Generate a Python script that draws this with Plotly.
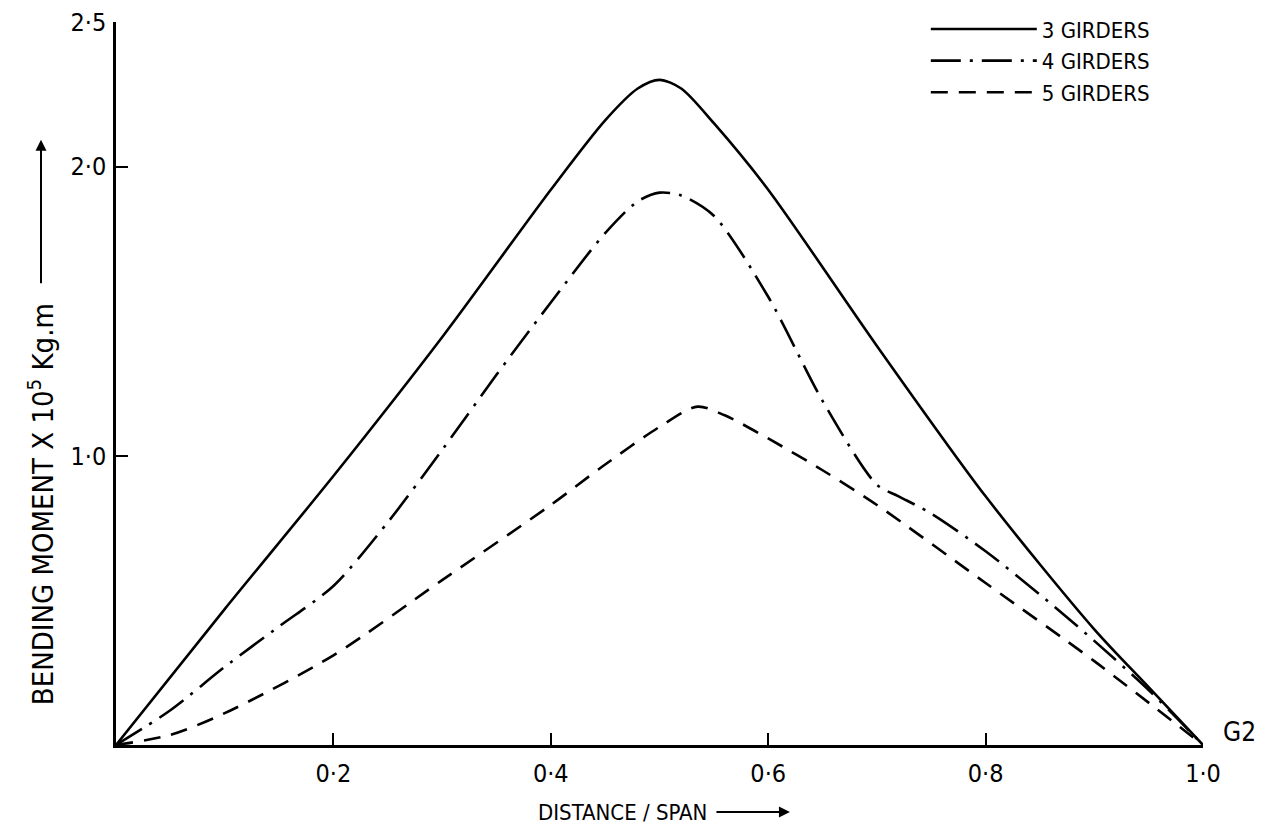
import plotly.graph_objects as go

# Distance / span positions and bending moments (x 10^5 kg.m) for girder G2
x3 = [0.0, 0.1, 0.2, 0.3, 0.4, 0.45, 0.48, 0.5, 0.52, 0.55, 0.6, 0.7, 0.8, 0.9, 0.95, 1.0]
m3 = [0.0, 0.47, 0.93, 1.41, 1.92, 2.16, 2.27, 2.30, 2.27, 2.15, 1.92, 1.38, 0.86, 0.40, 0.20, 0.0]

x4 = [0.0, 0.05, 0.1, 0.15, 0.2, 0.25, 0.3, 0.35, 0.4, 0.45, 0.48, 0.5, 0.52, 0.55,
      0.6, 0.65, 0.7, 0.72, 0.75, 0.8, 0.85, 0.9, 0.95, 1.0]
m4 = [0.0, 0.12, 0.27, 0.41, 0.55, 0.77, 1.02, 1.28, 1.53, 1.77, 1.88, 1.91, 1.90, 1.83,
      1.55, 1.19, 0.90, 0.86, 0.80, 0.67, 0.52, 0.36, 0.19, 0.0]

x5 = [0.0, 0.05, 0.1, 0.2, 0.3, 0.4, 0.45, 0.5, 0.535, 0.56, 0.6, 0.65, 0.7, 0.8, 0.9, 1.0]
m5 = [0.0, 0.035, 0.11, 0.31, 0.57, 0.83, 0.97, 1.10, 1.17, 1.14, 1.06, 0.95, 0.83, 0.56, 0.29, 0.0]

series_names = ["3 GIRDERS", "4 GIRDERS", "5 GIRDERS"]

x_ticks = [0.2, 0.4, 0.6, 0.8, 1.0]
x_tick_text = ["0·2", "0·4", "0·6", "0·8", "1·0"]
y_ticks = [1.0, 2.0, 2.5]
y_tick_text = ["1·0", "2·0", "2·5"]

FONT = "DejaVu Sans Condensed, DejaVu Sans, sans-serif"
INK = "#000000"

fig = go.Figure()
styles = [("solid", 2.6), ("30px,9px,3px,9px", 2.6), ("17px,11px", 2.6)]
for (xs, ys), name, (dash, w) in zip([(x3, m3), (x4, m4), (x5, m5)], series_names, styles):
    fig.add_trace(go.Scatter(
        x=xs, y=ys, name=name, mode="lines",
        line=dict(color=INK, width=w, dash=dash, shape="spline", smoothing=0.8),
    ))

fig.update_layout(
    width=1278, height=838,
    margin=dict(l=116, r=75, t=22, b=93, autoexpand=False),
    paper_bgcolor="white", plot_bgcolor="white",
    font=dict(family=FONT, size=22, color=INK),
    showlegend=True,
    legend=dict(
        x=0.745, y=1.019, xanchor="left", yanchor="top",
        bgcolor="rgba(0,0,0,0)", itemwidth=106, tracegroupgap=0,
        font=dict(family=FONT, size=22, color=INK),
    ),
    xaxis=dict(
        range=[0, 1.0], showgrid=False, zeroline=False,
        showline=True, linecolor=INK, linewidth=2.5,
        tickmode="array", tickvals=x_ticks, ticktext=x_tick_text,
        ticks="inside", ticklen=12, tickwidth=2, tickcolor=INK,
        tickfont=dict(family=FONT, size=25, color=INK),
        ticklabelstandoff=4,
    ),
    yaxis=dict(
        range=[0, 2.5], showgrid=False, zeroline=False,
        showline=True, linecolor=INK, linewidth=2.5,
        tickmode="array", tickvals=y_ticks, ticktext=y_tick_text,
        ticks="inside", ticklen=12, tickwidth=2, tickcolor=INK,
        tickfont=dict(family=FONT, size=25, color=INK),
        ticklabelstandoff=2,
    ),
)

# Axis titles with their pointer arrows
fig.add_annotation(
    text="BENDING MOMENT X 10<sup>5</sup> Kg.m",
    xref="paper", yref="paper", x=-0.069, y=0.333,
    xanchor="center", yanchor="middle",
    textangle=-90, showarrow=False,
    font=dict(family=FONT, size=29, color=INK),
)
fig.add_annotation(
    text="", xref="paper", yref="paper", x=-0.069, y=0.837,
    ax=0, ay=145, axref="pixel", ayref="pixel",
    showarrow=True, arrowhead=2, arrowsize=1.1, arrowwidth=2, arrowcolor=INK,
)
fig.add_annotation(
    text="DISTANCE / SPAN",
    xref="paper", yref="paper", x=0.466, y=-0.0927,
    xanchor="center", yanchor="middle",
    showarrow=False, font=dict(family=FONT, size=22, color=INK),
)
fig.add_annotation(
    text="", xref="paper", yref="paper", x=0.62, y=-0.0927,
    ax=-75, ay=0, axref="pixel", ayref="pixel",
    showarrow=True, arrowhead=2, arrowsize=1.1, arrowwidth=2, arrowcolor=INK,
)
fig.add_annotation(
    text="G2", xref="x", yref="y", x=1.0, y=0.0,
    xanchor="left", yanchor="bottom", xshift=18, yshift=-4,
    showarrow=False, font=dict(family=FONT, size=26, color=INK),
)

fig.write_html("out.html")
